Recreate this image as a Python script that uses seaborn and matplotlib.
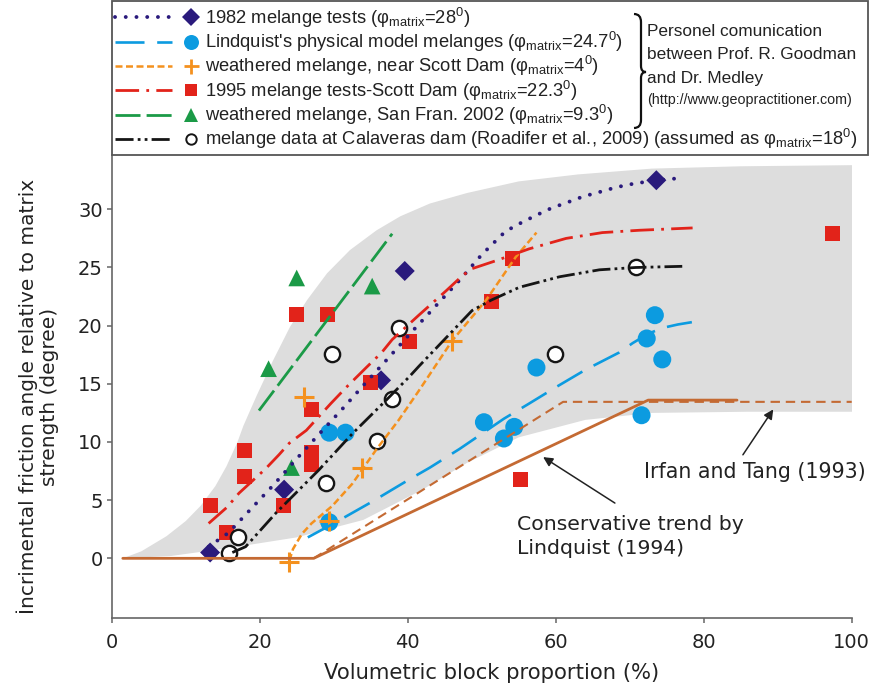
import numpy as np
import pandas as pd
import matplotlib
matplotlib.use("Agg")
import matplotlib.pyplot as plt
import seaborn as sns
from matplotlib.lines import Line2D
from matplotlib.patches import Rectangle, PathPatch
from matplotlib.path import Path

# ---------------- data ----------------
# envelope (gray band)
band_up_x = [1.5, 4.0, 7.4, 10.0, 12.0, 14.0, 15.5, 17.0, 17.8, 19.6, 21.8, 24.1, 26.4, 29.1,
             32.2, 35.8, 39.0, 43.0, 48.0, 55.0, 63.0, 73.0, 85.0, 100.5]
band_up_y = [0.0, 0.6, 1.9, 3.2, 4.5, 6.2, 7.9, 10.0, 11.4, 14.0, 17.0, 19.9, 22.2, 24.5,
             26.5, 28.2, 29.4, 30.5, 31.4, 32.4, 33.0, 33.5, 33.7, 33.8]
band_lo_x = [1.5, 8.0, 16.0, 25.0, 34.0, 42.0, 48.0, 55.0, 64.0, 73.0, 86.0, 100.5]
band_lo_y = [0.0, 0.2, 0.9, 1.8, 3.3, 5.9, 8.2, 10.4, 11.9, 12.5, 12.6, 12.6]

# trend curves
c1982_x = [13.1, 15.8, 18.9, 22.0, 25.2, 28.2, 31.4, 34.2, 37.5, 40.6, 43.8, 47.0, 50.0, 53.2,
           55.2, 57.4, 59.4, 61.6, 63.7, 66.0, 68.2, 70.5, 73.6, 77.2]
c1982_y = [1.0, 2.2, 4.3, 6.4, 8.7, 10.8, 13.0, 15.0, 17.3, 19.5, 21.7, 23.9, 26.1, 28.1,
           28.8, 29.5, 30.1, 30.6, 31.1, 31.5, 31.9, 32.2, 32.5, 32.7]
lq_x = [26.5, 30.0, 35.0, 40.0, 43.0, 47.0, 50.0, 53.0, 56.4, 60.0, 64.0, 68.6, 70.4, 72.5, 74.4, 76.5, 78.4]
lq_y = [1.8, 3.0, 4.8, 6.7, 7.8, 9.4, 10.7, 12.0, 13.3, 14.7, 16.2, 17.7, 18.5, 19.3, 19.8, 20.1, 20.3]
or_x = [24.0, 24.5, 25.7, 27.0, 29.8, 32.5, 35.7, 38.8, 41.5, 46.0, 50.6, 54.6, 57.4]
or_y = [-0.2, 0.8, 2.1, 3.0, 4.5, 6.4, 9.3, 11.9, 14.4, 18.7, 22.2, 25.9, 28.0]
rd_x = [13.1, 15.6, 17.2, 20.8, 22.6, 24.0, 26.3, 29.6, 31.7, 34.4, 36.5, 37.9, 41.5, 45.2,
        47.4, 48.7, 52.0, 56.4, 61.4, 66.3, 71.3, 78.5]
rd_y = [3.0, 4.4, 5.6, 7.7, 8.9, 9.9, 11.0, 13.3, 14.7, 16.4, 17.7, 18.8, 20.9, 23.0,
        24.3, 24.9, 25.6, 26.6, 27.5, 28.0, 28.2, 28.4]
gr_x = [19.9, 37.9]
gr_y = [12.7, 27.9]
bk_x = [16.3, 18.1, 22.2, 28.0, 32.5, 37.1, 40.2, 41.5, 46.0, 48.7, 51.3, 55.1, 60.5, 65.9, 70.8, 77.1]
bk_y = [0.5, 1.0, 3.9, 7.6, 10.7, 13.6, 15.6, 16.5, 19.5, 21.3, 22.2, 23.3, 24.2, 24.8, 25.0, 25.1]
cons_x = [1.5, 27.3, 72.5, 84.5]          # Lindquist (1994) conservative trend
cons_y = [0.0, 0.0, 13.6, 13.6]
irf_x = [27.3, 61.0, 100.0]               # Irfan and Tang (1993)
irf_y = [0.0, 13.45, 13.45]

# data points
d1982_x = [13.3, 23.3, 36.4, 39.6, 73.6]
d1982_y = [0.5, 5.9, 15.3, 24.7, 32.5]
lqp_x = [29.4, 29.4, 31.6, 50.3, 53.0, 54.4, 57.4, 71.6, 72.3, 73.4, 74.4]
lqp_y = [3.1, 10.8, 10.8, 11.7, 10.3, 11.3, 16.4, 12.3, 18.9, 20.9, 17.1]
orp_x = [24.0, 29.4, 26.0, 33.8, 46.0]
orp_y = [-0.3, 3.2, 13.9, 7.8, 18.7]
rdp_x = [13.3, 15.5, 18.0, 18.0, 23.2, 25.0, 29.2, 27.0, 27.0, 27.0, 35.0, 40.2, 51.3, 54.1, 55.2, 97.4]
rdp_y = [4.5, 2.2, 9.3, 7.0, 4.5, 21.0, 21.0, 12.8, 9.1, 8.1, 15.1, 18.6, 22.1, 25.8, 6.8, 27.9]
grp_x = [21.2, 24.3, 25.0, 35.2]
grp_y = [16.3, 7.8, 24.1, 23.4]
bkp_x = [15.8, 17.1, 29.0, 29.8, 35.9, 37.9, 38.8, 59.9, 70.8]
bkp_y = [0.5, 1.8, 6.5, 17.6, 10.1, 13.7, 19.8, 17.6, 25.0]

x_ticks = [0, 20, 40, 60, 80, 100]
y_ticks = [0, 5, 10, 15, 20, 25, 30]

legend_labels = [
    "1982 melange tests (φ$_{\\rm matrix}$=28$^{\\rm 0}$)",
    "Lindquist's physical model melanges (φ$_{\\rm matrix}$=24.7$^{\\rm 0}$)",
    "weathered melange, near Scott Dam (φ$_{\\rm matrix}$=4$^{\\rm 0}$)",
    "1995 melange tests-Scott Dam (φ$_{\\rm matrix}$=22.3$^{\\rm 0}$)",
    "weathered melange, San Fran. 2002 (φ$_{\\rm matrix}$=9.3$^{\\rm 0}$)",
    "melange data at Calaveras dam (Roadifer et al., 2009) (assumed as φ$_{\\rm matrix}$=18$^{\\rm 0}$)",
]

# ---------------- style ----------------
sns.set_style("ticks")
plt.rcParams['font.family'] = ['DejaVu Sans']
plt.rcParams['mathtext.fontset'] = 'custom'
plt.rcParams['mathtext.rm'] = 'Liberation Sans'
plt.rcParams['mathtext.it'] = 'Liberation Sans:italic'
plt.rcParams['mathtext.bf'] = 'Liberation Sans:bold'

NAVY = '#2a1a7c'
BLUE = '#0c9be0'
ORANGE = '#f4911e'
RED = '#e2231a'
GREEN = '#1b9a47'
BLACK = '#151515'
BROWN = '#c46a33'
GRAY = '#dddddd'
TXT = '#222222'

W, H = 874, 693
fig = plt.figure(figsize=(W / 100, H / 100), dpi=100)
ax = fig.add_axes([111.7 / W, 75 / H, 740 / W, 463 / H])

# envelope
ax.fill(np.concatenate([band_up_x, band_lo_x[::-1]]),
        np.concatenate([band_up_y, band_lo_y[::-1]]),
        color=GRAY, lw=0, zorder=0)

# markers
sns.scatterplot(x=d1982_x, y=d1982_y, ax=ax, marker='D', s=104, color=NAVY, edgecolor='none', linewidth=0, zorder=2)
sns.scatterplot(x=lqp_x, y=lqp_y, ax=ax, marker='o', s=168, color=BLUE, edgecolor='none', linewidth=0, zorder=2)
sns.scatterplot(x=rdp_x, y=rdp_y, ax=ax, marker='s', s=117, color=RED, edgecolor='none', linewidth=0, zorder=2)
sns.scatterplot(x=grp_x, y=grp_y, ax=ax, marker='^', s=144, color=GREEN, edgecolor='none', linewidth=0, zorder=2)
sns.scatterplot(x=orp_x, y=orp_y, ax=ax, marker='+', s=207, color=ORANGE, edgecolor=ORANGE, linewidth=2.2, zorder=2)
sns.scatterplot(x=bkp_x, y=bkp_y, ax=ax, marker='o', s=121, color='white', edgecolor=BLACK, linewidth=1.7, zorder=2)

# lines
line_styles = {
    'c1982': dict(color=NAVY, lw=2.8, linestyle=(0, (0.01, 2.75)), dash_capstyle='round'),
    'lq': dict(color=BLUE, lw=1.9, linestyle=(0, (11, 4.8))),
    'or': dict(color=ORANGE, lw=1.8, linestyle=(0, (2.8, 1.4))),
    'rd': dict(color=RED, lw=2.0, linestyle=(0, (8.5, 2.6, 1, 2.6))),
    'gr': dict(color=GREEN, lw=2.0, linestyle=(0, (9, 2.2))),
    'bk': dict(color=BLACK, lw=2.0, linestyle=(0, (6.5, 1.5, 1, 1.5, 1, 1.5))),
}
for key, xs, ys in [('c1982', c1982_x, c1982_y), ('lq', lq_x, lq_y), ('or', or_x, or_y),
                    ('rd', rd_x, rd_y), ('gr', gr_x, gr_y), ('bk', bk_x, bk_y)]:
    sns.lineplot(x=xs, y=ys, ax=ax, sort=False, estimator=None, zorder=3, **line_styles[key])

sns.lineplot(x=irf_x, y=irf_y, ax=ax, sort=False, estimator=None, color=BROWN, lw=1.5,
             linestyle=(0, (4.5, 2.8)), zorder=3)
sns.lineplot(x=cons_x, y=cons_y, ax=ax, sort=False, estimator=None, color=BROWN, lw=2.0,
             linestyle='-', zorder=3)

# annotations
ax.text(71.9, 7.4, 'Irfan and Tang (1993)', fontsize=14.8, color=TXT, ha='left', va='center')
ax.annotate('', xy=(89.4, 12.8), xytext=(85.3, 8.9),
            arrowprops=dict(arrowstyle='-|>', color='#222', lw=1.1, mutation_scale=14, shrinkA=0, shrinkB=0))
ax.text(54.8, 1.87, 'Conservative trend by\nLindquist (1994)', fontsize=14.7, color=TXT,
        ha='left', va='center', linespacing=1.3)
ax.annotate('', xy=(58.3, 8.7), xytext=(68.0, 4.75),
            arrowprops=dict(arrowstyle='-|>', color='#222', lw=1.1, mutation_scale=14, shrinkA=0, shrinkB=0))

# axes
ax.set_xlim(0, 100)
ax.set_ylim(-5.13, 34.67)
ax.set_xticks(x_ticks)
ax.set_yticks(y_ticks)
ax.set_xticklabels([str(v) for v in x_ticks])
ax.set_yticklabels([str(v) for v in y_ticks])
sns.despine(ax=ax)
for s in ['left', 'bottom']:
    ax.spines[s].set_color('#666666')
    ax.spines[s].set_linewidth(1.2)
ax.tick_params(axis='both', colors='#666666', labelcolor=TXT, labelsize=14, width=1.1, length=3.5)
ax.tick_params(axis='x', pad=7)
ax.tick_params(axis='y', pad=3)
ax.yaxis.get_major_ticks()[1].tick1line.set_color(RED)
ax.set_xlabel('Volumetric block proportion (%)', fontsize=15.2, color=TXT, va='center')
ax.xaxis.set_label_coords(0.513, -0.119)
ax.set_ylabel('İncrimental friction angle relative to matrix\nstrength (degree)', fontsize=14.5,
              color=TXT, va='center', ha='center', multialignment='center', linespacing=1.1)
ax.yaxis.set_label_coords(-0.0996, 0.478)
ax.set_facecolor('white')


# ---------------- legend ----------------
class Entry:
    def __init__(self, line_kw, mk_kw):
        self.line_kw = line_kw
        self.mk_kw = mk_kw


class EntryHandler:
    def legend_artist(self, legend, orig_handle, fontsize, handlebox):
        x0, y0 = handlebox.xdescent, handlebox.ydescent
        w, h = handlebox.width, handlebox.height
        yc = (h - y0) / 2.0
        tr = handlebox.get_transform()
        ln = Line2D([-x0, -x0 + 0.687 * w], [yc, yc], transform=tr, **orig_handle.line_kw)
        mk = Line2D([-x0 + 0.916 * w], [yc], linestyle='none', transform=tr, **orig_handle.mk_kw)
        handlebox.add_artist(ln)
        handlebox.add_artist(mk)
        return ln


entries = [
    Entry(line_styles['c1982'], dict(marker='D', markersize=8.7, color=NAVY, markeredgewidth=0)),
    Entry(line_styles['lq'], dict(marker='o', markersize=10.8, color=BLUE, markeredgewidth=0)),
    Entry(line_styles['or'], dict(marker='+', markersize=10.8, color=ORANGE, markeredgewidth=2.0)),
    Entry(line_styles['rd'], dict(marker='s', markersize=8.6, color=RED, markeredgewidth=0)),
    Entry(line_styles['gr'], dict(marker='^', markersize=9.4, color=GREEN, markeredgewidth=0)),
    Entry(line_styles['bk'], dict(marker='o', markersize=7.5, markerfacecolor='white',
                                  markeredgecolor=BLACK, markeredgewidth=1.4)),
]
LEG_FS = 13.2
leg = fig.legend(handles=entries, labels=legend_labels, handler_map={Entry: EntryHandler()},
                 loc='upper left', bbox_to_anchor=(115 / W, 1 - 5.5 / H), frameon=False,
                 prop={'family': 'Liberation Sans', 'size': LEG_FS}, handlelength=4.53,
                 handletextpad=0.38, labelspacing=0.015, borderpad=0, borderaxespad=0)
for t in leg.get_texts():
    t.set_color(TXT)

# legend frame
fig.add_artist(Rectangle((111.7 / W, 1 - 155 / H), (868 - 111.7) / W, 153.5 / H,
                         transform=fig.transFigure, fill=False, edgecolor='#555555', lw=1.3))


# brace
def fp(x, y):
    return (x / W, 1 - y / H)


verts = [fp(634, 14), fp(641, 14), fp(641, 22), fp(641, 66), fp(641, 72), fp(646, 72),
         fp(641, 72), fp(641, 78), fp(641, 120), fp(641, 128), fp(634, 128)]
codes = [Path.MOVETO, Path.CURVE3, Path.CURVE3, Path.LINETO, Path.CURVE3, Path.CURVE3,
         Path.CURVE3, Path.CURVE3, Path.LINETO, Path.CURVE3, Path.CURVE3]
fig.add_artist(PathPatch(Path(verts, codes), transform=fig.transFigure, fill=False,
                         edgecolor='#111111', lw=1.6))

side_lines = ['Personel comunication', 'between Prof. R. Goodman', 'and Dr. Medley']
for i, s in enumerate(side_lines):
    fig.text(647 / W, 1 - (35.5 + 23.8 * i) / H, s, family='Liberation Sans', fontsize=12.4,
             color=TXT, ha='left', va='baseline')
fig.text(647 / W, 1 - 104 / H, '(http://www.geopractitioner.com)', family='Liberation Sans',
         fontsize=10.3, color=TXT, ha='left', va='baseline')

fig.savefig('out.png', dpi=100, facecolor='white')
